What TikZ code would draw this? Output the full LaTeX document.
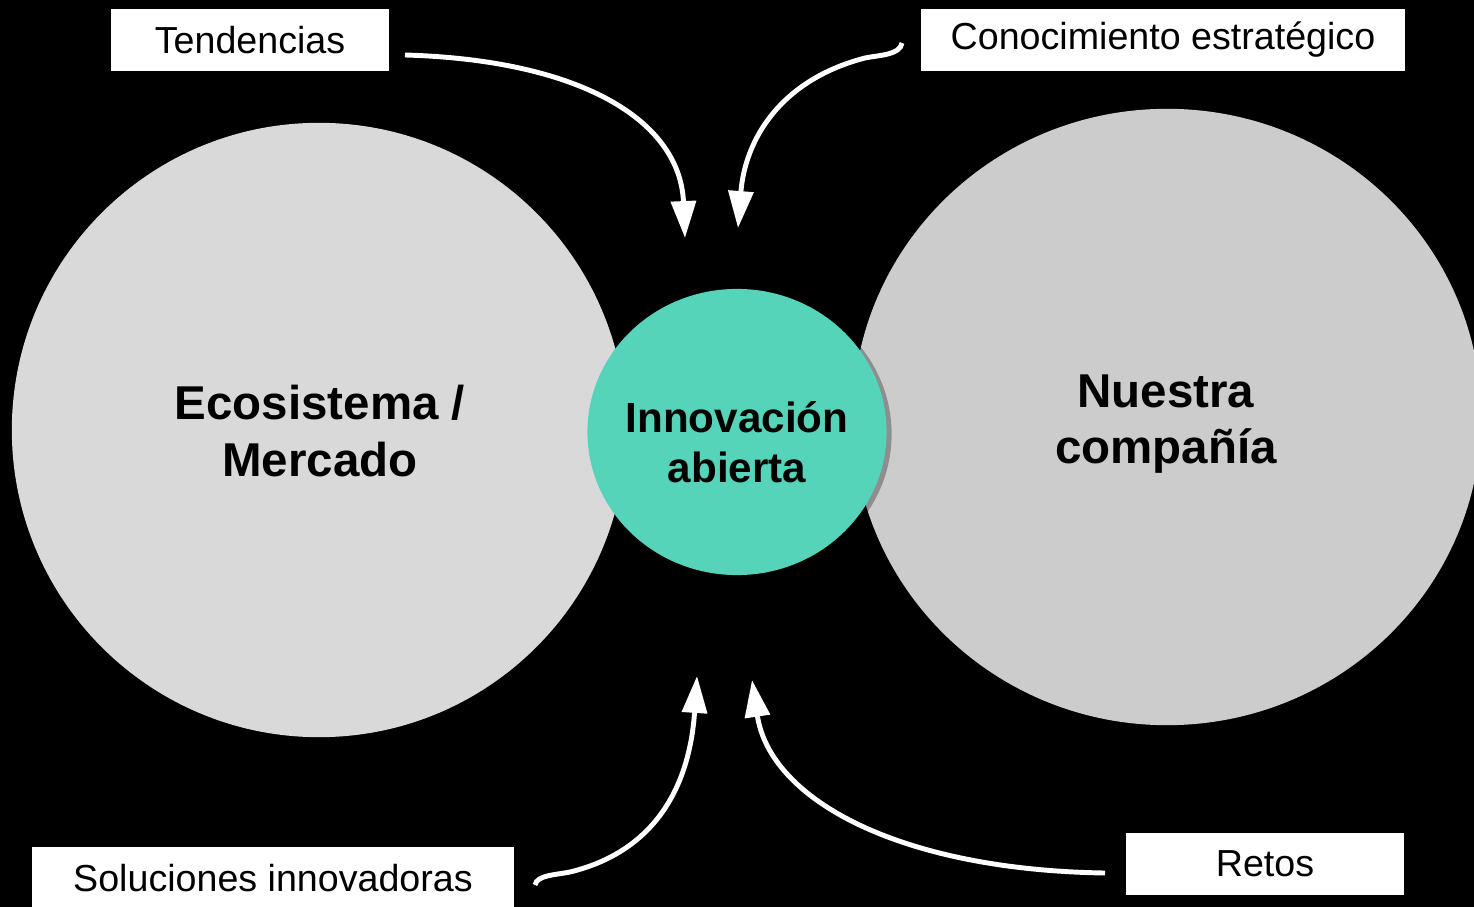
\documentclass[tikz,border=0pt]{standalone}
\usepackage{fontspec}
\setmainfont{Liberation Sans}
\usetikzlibrary{arrows.meta,shapes.geometric,shadows}

\begin{document}
\begin{tikzpicture}[x=0.01cm,y=-0.01cm,
box/.style={fill=white,minimum height=0.62cm,font=\fontsize{10.7}{12}\selectfont},
flow/.style={draw=white,line width=1.4pt,-{Triangle[length=10.5pt,width=7pt]}},
bigtext/.style={font=\fontsize{13.5}{16}\bfseries\selectfont,align=center}]

\fill[black] (0,0) rectangle (1474,907);

\useasboundingbox (0,0) rectangle (1474,907);

\node[circle,fill={rgb,255:red,217;green,217;blue,217},minimum size=6.14cm] (eco) at (319,430) {};
\node[bigtext] (ecoText) at (320,431) {Ecosistema /\\Mercado};

\node[ellipse,inner sep=0pt,fill={rgb,255:red,204;green,204;blue,204},minimum width=6.28cm,minimum height=6.16cm] (comp) at (1167,417) {};
\node[bigtext] (compText) at (1166,424) {Nuestra\\compañía};

\node[ellipse,inner sep=0pt,fill={rgb,255:red,85;green,212;blue,186},minimum width=2.99cm,minimum height=2.86cm,
drop shadow={shadow xshift=0.05cm,shadow yshift=-0.02cm,fill=black,opacity=0.3}] (innov) at (737,432) {};
\node[font=\fontsize{12}{14.2}\bfseries\selectfont,align=center] (innovText) at (737,442) {Innovación\\abierta};

\node[box,minimum width=2.78cm] (tend) at (250,40) {Tendencias};

\node[box,minimum width=4.84cm] (conoc) at (1163,40) {Conocimiento estratégico};

\node[box,minimum width=4.82cm] (soluc) at (273,878) {Soluciones innovadoras};

\node[box,minimum width=2.78cm] (retos) at (1265,864) {Retos};

\coordinate (tendOut) at (405,55);
\coordinate (conocOut) at (902,43);
\coordinate (solucOut) at (535,885);
\coordinate (retosOut) at (1105,873);

\coordinate (inTopL) at (685,238);
\coordinate (inTopR) at (738,228);
\coordinate (inBotL) at (697,676);
\coordinate (inBotR) at (752,680);

\draw[flow] (tendOut) .. controls (580,60) and (680,120) .. (inTopL);

\draw[flow] (conocOut) .. controls (900,55) and (880,55) .. (865,58)
.. controls (780,80) and (745,140) .. (inTopR);

\draw[flow] (solucOut) .. controls (537,875) and (555,875) .. (570,872)
.. controls (660,850) and (690,780) .. (inBotL);

\draw[flow] (retosOut) .. controls (900,870) and (770,800) .. (inBotR);

\end{tikzpicture}
\end{document}
